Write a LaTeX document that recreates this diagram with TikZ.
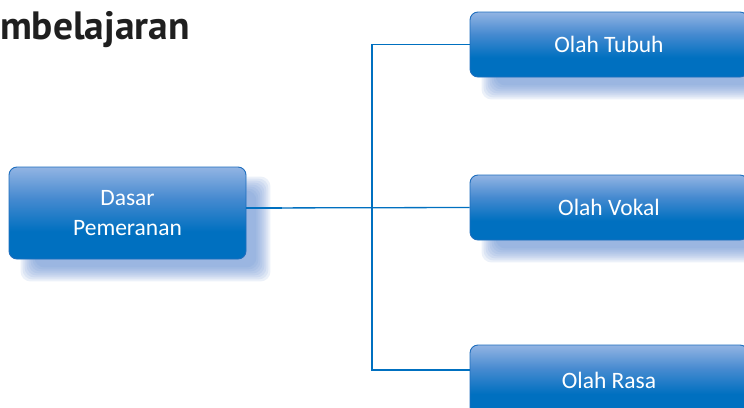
\documentclass[tikz,border=0pt]{standalone}
\usepackage{fontspec}
\setmainfont{Carlito}
\newfontfamily\titlefont{PT Sans}
\usetikzlibrary{backgrounds}
\definecolor{bdark}{RGB}{0,112,192}
\definecolor{bmid}{RGB}{70,138,208}
\definecolor{blight}{RGB}{146,180,227}
\definecolor{bborder}{RGB}{30,110,190}
\definecolor{lnc}{RGB}{0,112,192}
\definecolor{shadowc}{RGB}{105,145,212}
\pgfdeclareverticalshading{boxshade}{100bp}{color(0bp)=(bdark); color(25bp)=(bdark); color(40bp)=(bdark); color(58bp)=(bmid); color(75bp)=(blight); color(100bp)=(blight)}
\tikzset{
  box/.style={rectangle, rounded corners=8pt, shading=boxshade, draw=bborder, line width=0.9pt,
    text=white, font=\fontsize{23.5}{30}\selectfont, align=center, inner sep=0pt},
  conn/.style={draw=lnc, line width=1.3pt},
  connthick/.style={draw=lnc, line width=2.4pt},
  titlestyle/.style={font=\titlefont\bfseries\fontsize{39.5}{42}\selectfont, text=black!88, inner sep=0pt, anchor=base west}
}
\newcommand\softshadow[1]{%
  \begin{pgfonlayer}{background}
  \foreach \k in {0,...,7}{
    \pgfmathsetmacro\e{6-2*\k}
    \fill[shadowc, opacity=0.12, rounded corners=10pt]
      ([shift={(18-\e,16+\e)}]#1.south west) rectangle ([shift={(18+\e,16-\e)}]#1.north east);
  }
  \end{pgfonlayer}}
\begin{document}
\begin{tikzpicture}[x=1pt,y=-1pt]
\useasboundingbox (0,0) rectangle (744,407);
\begin{pgfonlayer}{background}
\fill[white] (0,0) rectangle (744,407);
\end{pgfonlayer}

\node[titlestyle] (title) at (0,39) {mbelajaran};

\node[box, minimum width=237pt, minimum height=92pt] (dasar) at (127.5,213) {Dasar\\Pemeranan};
\node[box, minimum width=278pt, minimum height=65pt] (tubuh) at (609,44.5) {Olah Tubuh};
\node[box, minimum width=278pt, minimum height=65pt] (vokal) at (609,207.5) {Olah Vokal};
\node[box, minimum width=278pt, minimum height=70pt] (rasa) at (609,380) {Olah Rasa};

\softshadow{dasar}
\softshadow{tubuh}
\softshadow{vokal}
\softshadow{rasa}

\coordinate (bus) at (372,207.7);
\draw[conn] ([yshift=5pt]dasar.east) -- (vokal.west);
\draw[connthick] ([yshift=5pt]dasar.east) -- ++(36,0);
\draw[conn] (tubuh.west) -| (bus);
\draw[conn] (bus) |- ([yshift=10pt]rasa.west);
\end{tikzpicture}
\end{document}
